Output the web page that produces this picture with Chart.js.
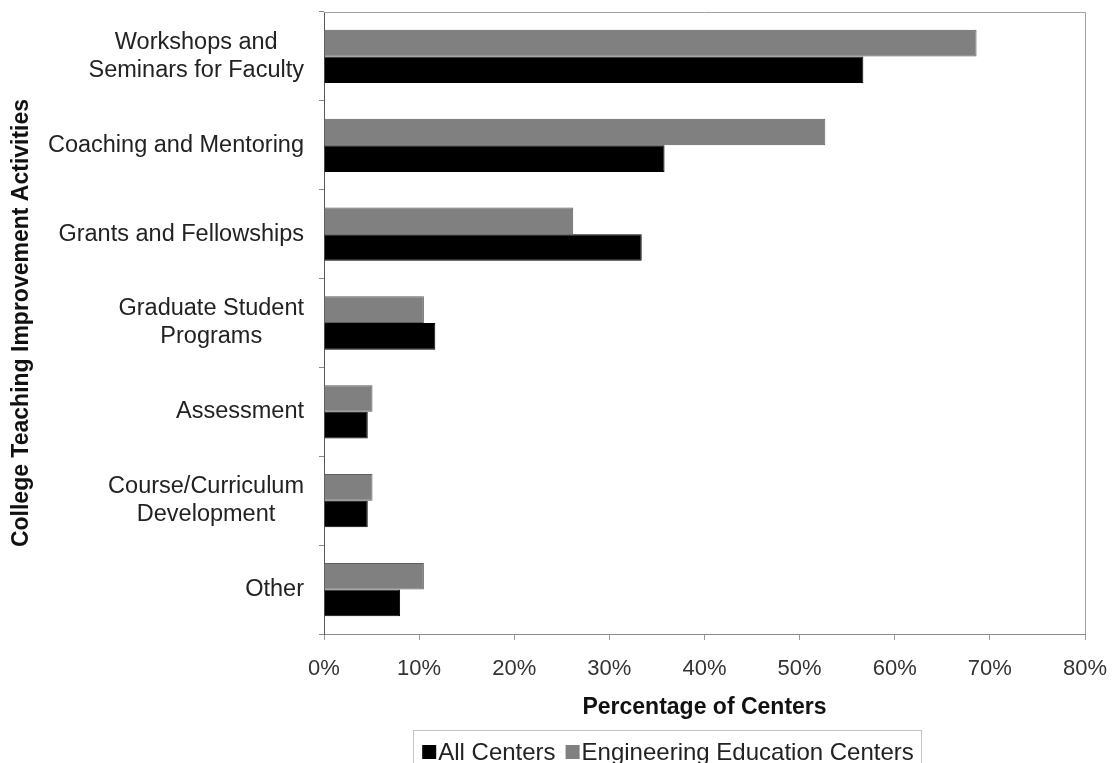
<!DOCTYPE html>
<html>
<head>
<meta charset="utf-8">
<title>College Teaching Improvement Activities</title>
<script src="https://cdn.jsdelivr.net/npm/chart.js@4.4.1/dist/chart.umd.min.js"></script>
<style>
  html, body { margin: 0; padding: 0; background: #fff; }
  #wrap { width: 1112px; height: 763px; position: relative; }
</style>
</head>
<body>
<div id="wrap"><canvas id="myChart"></canvas></div>
<script>
const activities = [
  ["Workshops and", "Seminars for Faculty"],
  "Coaching and Mentoring",
  "Grants and Fellowships",
  ["Graduate Student", "Programs"],
  "Assessment",
  ["Course/Curriculum", "Development"],
  "Other"
];
const allCenters = [56.7, 35.8, 33.4, 11.7, 4.6, 4.6, 8.0];
const engineeringCenters = [68.6, 52.7, 26.2, 10.5, 5.1, 5.1, 10.5];
const seriesNames = ["All Centers", "Engineering Education Centers"];
const xTicks = [0, 10, 20, 30, 40, 50, 60, 70, 80];

const FONT = "'Liberation Sans', Arial, sans-serif";

// category labels: block right-aligned against the axis, lines centred inside the block
const categoryLabels = {
  id: "categoryLabels",
  afterDraw(chart) {
    const { ctx } = chart;
    const yScale = chart.scales.y;
    const right = chart.chartArea.left - 20;
    const lineH = 28;
    ctx.save();
    ctx.font = "23.5px " + FONT;
    ctx.fillStyle = "#222";
    ctx.textAlign = "center";
    ctx.textBaseline = "middle";
    activities.forEach((label, i) => {
      const lines = Array.isArray(label) ? label : [label];
      const maxW = Math.max(...lines.map((l) => ctx.measureText(l).width));
      const cx = right - maxW / 2;
      const y0 = yScale.getPixelForTick(i) - ((lines.length - 1) * lineH) / 2;
      lines.forEach((l, k) => ctx.fillText(l, cx, y0 + k * lineH));
    });
    ctx.restore();
  },
};

// light frame on top and right of the plot
const plotFrame = {
  id: "plotFrame",
  afterDraw(chart) {
    const { ctx, chartArea: a } = chart;
    ctx.save();
    ctx.strokeStyle = "#a0a0a0";
    ctx.lineWidth = 1;
    ctx.beginPath();
    ctx.moveTo(a.left, a.top + 0.5);
    ctx.lineTo(a.right + 0.5, a.top + 0.5);
    ctx.lineTo(a.right + 0.5, a.bottom);
    ctx.stroke();
    ctx.restore();
  },
};

// boxed legend under the axis title
const boxLegend = {
  id: "boxLegend",
  afterDraw(chart) {
    const { ctx } = chart;
    const ds = chart.data.datasets;
    const sq = 14, gap = 2, itemGap = 10, padX = 9;
    const cy = 752;
    ctx.save();
    ctx.font = "24px " + FONT;
    const widths = ds.map((d) => ctx.measureText(d.label).width);
    const total = widths.reduce((s, w) => s + sq + gap + w, 0) + itemGap * (ds.length - 1);
    let x = 668 - total / 2;
    ctx.strokeStyle = "#c4c4c4";
    ctx.lineWidth = 1;
    ctx.strokeRect(Math.round(x - padX) + 0.5, 730.5, Math.round(total + padX * 2 - 2), 40);
    ctx.textBaseline = "middle";
    ctx.textAlign = "left";
    ds.forEach((d, i) => {
      ctx.fillStyle = d.backgroundColor;
      ctx.fillRect(x, cy - sq / 2, sq, sq);
      x += sq + gap;
      ctx.fillStyle = "#222";
      ctx.fillText(d.label, x, cy + 1);
      x += widths[i] + itemGap;
    });
    ctx.restore();
  },
};

new Chart("myChart", {
  type: "bar",
  data: {
    labels: activities,
    datasets: [
      {
        label: seriesNames[0],
        data: allCenters,
        backgroundColor: "#000000",
        borderColor: "#000000",
        borderWidth: 1,
        order: 2,
      },
      {
        label: seriesNames[1],
        data: engineeringCenters,
        backgroundColor: "#808080",
        borderColor: "#5e5e5e",
        borderWidth: 1,
        order: 1,
      },
    ],
  },
  options: {
    indexAxis: "y",
    responsive: true,
    maintainAspectRatio: false,
    animation: false,
    events: [],
    layout: { padding: { top: 12, right: 27, bottom: 33, left: 0 } },
    datasets: { bar: { categoryPercentage: 0.6, barPercentage: 1.0 } },
    plugins: {
      legend: { display: false },
      tooltip: { enabled: false },
    },
    scales: {
      x: {
        min: 0,
        max: 80,
        afterBuildTicks(scale) {
          scale.ticks = xTicks.map((v) => ({ value: v }));
        },
        afterFit(scale) {
          scale.height = 96;
          scale.paddingLeft = 0;
          scale.paddingRight = 0;
        },
        grid: {
          drawOnChartArea: false,
          drawTicks: true,
          tickLength: 6,
          tickColor: "#9a9a9a",
        },
        border: { display: true, color: "#8a8a8a", width: 1 },
        ticks: {
          padding: 16,
          color: "#333",
          font: { family: FONT, size: 22 },
          callback: (v) => v + "%",
        },
        title: {
          display: true,
          text: "Percentage of Centers",
          color: "#111",
          font: { family: FONT, size: 23, weight: "bold" },
          padding: { top: 0, bottom: 9 },
        },
      },
      y: {
        afterFit(scale) {
          scale.width = 324;
        },
        grid: {
          offset: true,
          drawOnChartArea: false,
          drawTicks: true,
          tickLength: 5,
          tickColor: "#8a8a8a",
        },
        border: { display: true, color: "#5a5a5a", width: 1 },
        ticks: { display: false },
        title: {
          display: true,
          text: "College Teaching Improvement Activities",
          color: "#111",
          font: { family: FONT, size: 23, weight: "bold" },
          padding: { top: 8, bottom: 0 },
        },
      },
    },
  },
  plugins: [categoryLabels, plotFrame, boxLegend],
});
</script>
</body>
</html>
